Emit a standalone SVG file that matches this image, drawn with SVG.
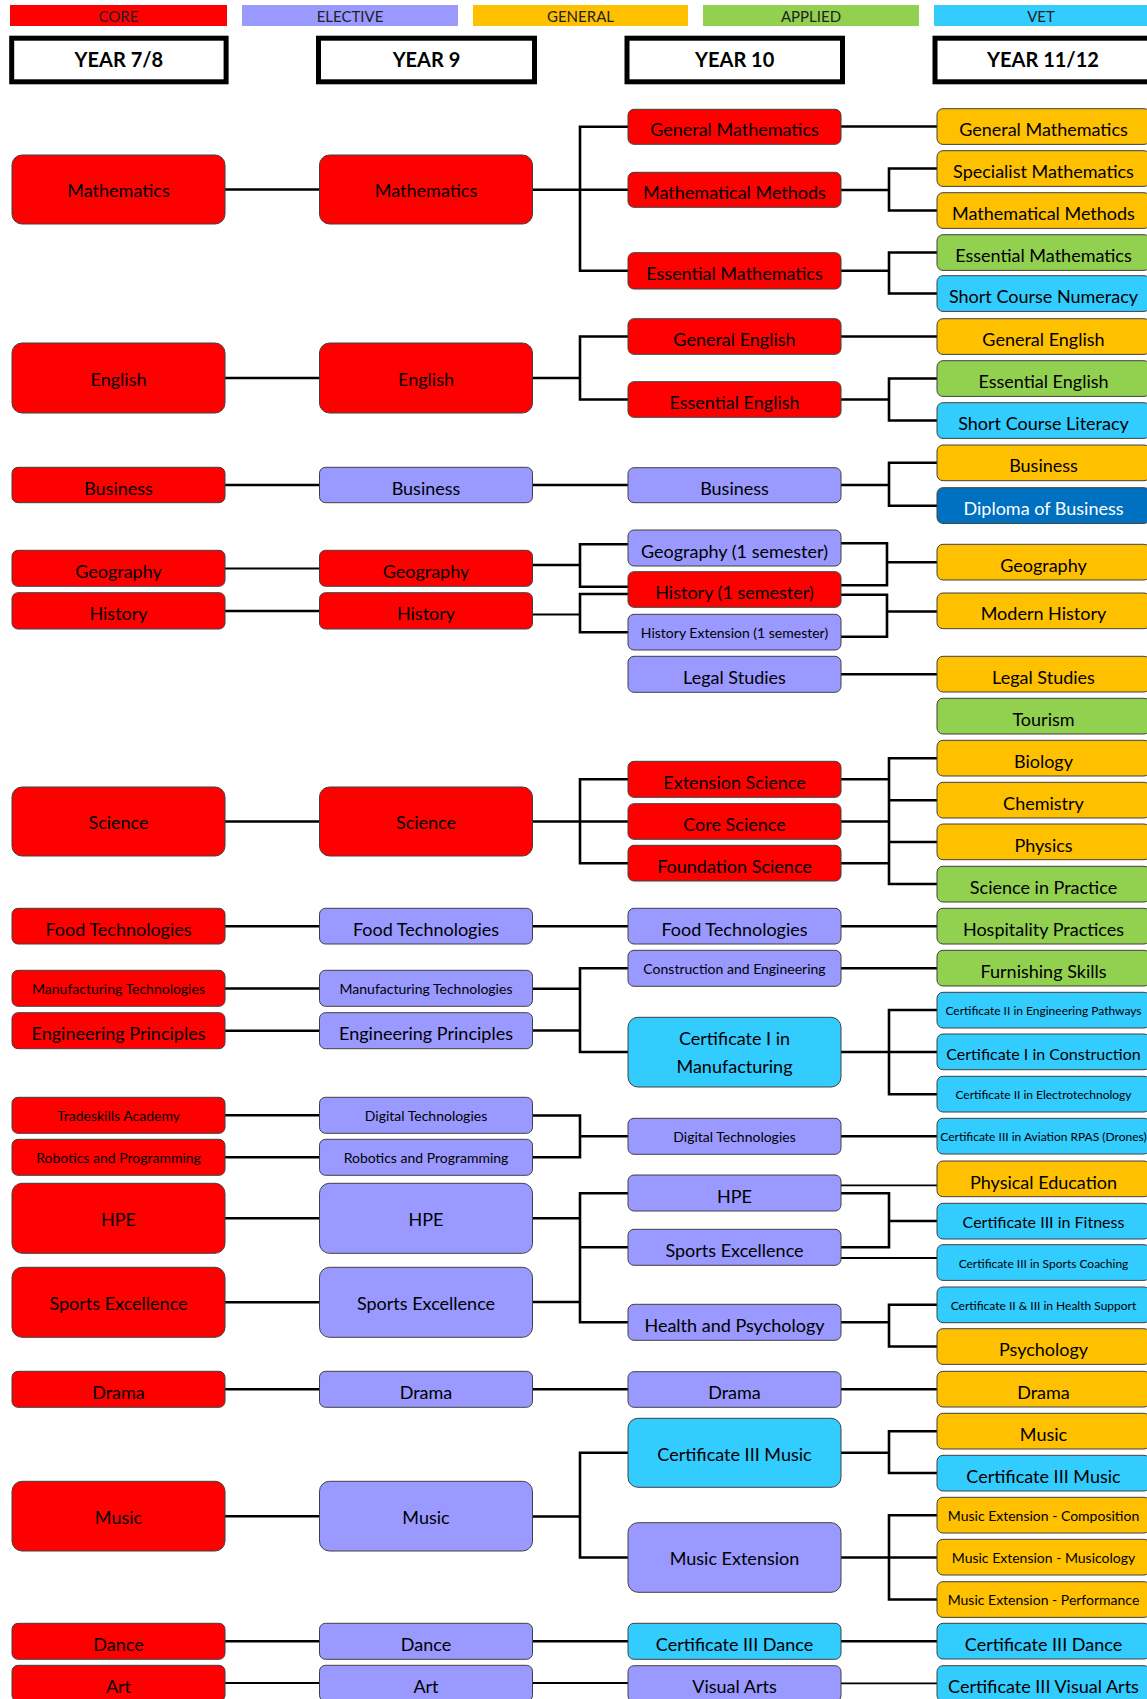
<svg xmlns="http://www.w3.org/2000/svg" width="1147" height="1699" viewBox="0 0 1147 1699">
<style>
  text { font-family: Lato, "Liberation Sans", sans-serif; fill: #000; text-anchor: middle; }
  .n rect { stroke: #404040; stroke-width: 1; }
  .core { fill: #FF0000; }
  .elec { fill: #9999FF; }
  .gen { fill: #FFC000; }
  .app { fill: #92D050; }
  .vet { fill: #33CCFF; }
  .dip { fill: #0070C0; }
  .wt { fill: #FFFFFF; }
  .t18 { font-size: 18px; }
  .t16 { font-size: 16px; }
  .t14 { font-size: 14px; }
  .t12 { font-size: 12px; }
  .leg { font-size: 15px; fill: #222; }
  .hdr rect { fill: #FFFFFF; stroke: #000; stroke-width: 5; }
  .hdr text { font-size: 20px; font-weight: bold; }
  #connectors path { fill: none; stroke: #000; stroke-width: 2.6; }
  #connectors path.thin { stroke-width: 1.8; }
</style>
<rect x="0" y="0" width="1147" height="1699" fill="#FFFFFF"/>

<g id="legend">
  <rect x="10" y="5" width="217" height="21" class="core"/>
  <text x="118.5" y="21.5" class="leg">CORE</text>
  <rect x="242" y="5" width="216" height="21" class="elec"/>
  <text x="350" y="21.5" class="leg">ELECTIVE</text>
  <rect x="473" y="5" width="215" height="21" class="gen"/>
  <text x="580.5" y="21.5" class="leg">GENERAL</text>
  <rect x="703" y="5" width="216" height="21" class="app"/>
  <text x="811" y="21.5" class="leg">APPLIED</text>
  <rect x="934" y="5" width="214" height="21" class="vet"/>
  <text x="1041" y="21.5" class="leg">VET</text>
</g>

<g id="hdr-y78" class="hdr"><rect x="11.7" y="38.2" width="214.4" height="43.6"/><text x="118.9" y="67">YEAR 7/8</text></g>
<g id="hdr-y9" class="hdr"><rect x="318.5" y="38.2" width="216" height="43.6"/><text x="426.5" y="67">YEAR 9</text></g>
<g id="hdr-y10" class="hdr"><rect x="627" y="38.2" width="215.5" height="43.6"/><text x="734.7" y="67">YEAR 10</text></g>
<g id="hdr-y1112" class="hdr"><rect x="935" y="38.2" width="216" height="43.6"/><text x="1043" y="67">YEAR 11/12</text></g>

<g id="connectors">
  <!-- Year 7/8 to Year 9 -->
  <path d="M225,189.5H319.5"/>
  <path d="M225,378H319.5"/>
  <path d="M225,485H319.5"/>
  <path d="M225,568.5H319.5" class="thin"/>
  <path d="M225,611H319.5"/>
  <path d="M225,821.5H319.5"/>
  <path d="M225,926.2H319.5"/>
  <path d="M225,988.5H319.5"/>
  <path d="M225,1030.7H319.5"/>
  <path d="M225,1115.3H319.5"/>
  <path d="M225,1157.3H319.5"/>
  <path d="M225,1218.3H319.5"/>
  <path d="M225,1302.3H319.5"/>
  <path d="M225,1389.3H319.5"/>
  <path d="M225,1516.2H319.5"/>
  <path d="M225,1641.3H319.5"/>
  <path d="M225,1683H319.5" class="thin"/>

  <!-- Year 9 to Year 10 -->
  <path d="M532.5,189.8H628"/>
  <path d="M628,126.8H580V270.8H628"/>
  <path d="M532.5,378H580"/>
  <path d="M628,336.5H580V399.5H628"/>
  <path d="M532.5,485H628"/>
  <path d="M532.5,565H580"/>
  <path d="M628,544.3H580V586.7H628"/>
  <path d="M532.5,614.5H580" class="thin"/>
  <path d="M628,594H580V632.3H628"/>
  <path d="M532.5,821.5H628"/>
  <path d="M628,779.3H580V863.2H628"/>
  <path d="M532.5,926.2H628"/>
  <path d="M532.5,988.7H580"/>
  <path d="M532.5,1030.5H580"/>
  <path d="M628,968.3H580V1052H628"/>
  <path d="M532.5,1115.5H580V1157.3H532.5"/>
  <path d="M580,1136.3H628"/>
  <path d="M532.5,1218.3H580"/>
  <path d="M532.5,1302H580"/>
  <path d="M628,1193.3H580V1322.3H628"/>
  <path d="M580,1247.3H628"/>
  <path d="M532.5,1389.3H628"/>
  <path d="M532.5,1516.5H580"/>
  <path d="M628,1452.8H580V1557.5H628"/>
  <path d="M532.5,1641.3H628"/>
  <path d="M532.5,1683H628" class="thin"/>

  <!-- Year 10 to Year 11/12 -->
  <path d="M841,126.5H937"/>
  <path d="M841,190H889"/>
  <path d="M937,168.5H889V210.5H937"/>
  <path d="M841,270.8H889"/>
  <path d="M937,252.5H889V293.5H937"/>
  <path d="M841,336.5H937"/>
  <path d="M841,399.5H889"/>
  <path d="M937,378.5H889V420.5H937"/>
  <path d="M841,485H889"/>
  <path d="M937,462.8H889V505.8H937"/>
  <path d="M841,543.3H887V585.3H841"/>
  <path d="M887,562.3H937"/>
  <path d="M841,594.7H887V636.7H841"/>
  <path d="M887,611.5H937"/>
  <path d="M841,674.3H937"/>
  <path d="M937,758.2H889V884H937"/>
  <path d="M889,800.3H937"/>
  <path d="M889,842H937"/>
  <path d="M841,779.3H889"/>
  <path d="M841,821.5H889"/>
  <path d="M841,863.2H889"/>
  <path d="M841,926.2H937"/>
  <path d="M841,968.3H937"/>
  <path d="M841,1052H937"/>
  <path d="M937,1010H889V1094.2H937"/>
  <path d="M841,1136.3H937"/>
  <path d="M841,1185.3H937" class="thin"/>
  <path d="M841,1193.3H889V1247.3H841"/>
  <path d="M889,1221H937"/>
  <path d="M841,1258H937" class="thin"/>
  <path d="M841,1322.3H889"/>
  <path d="M937,1304.7H889V1346.5H937"/>
  <path d="M841,1389.3H937"/>
  <path d="M841,1452.8H889"/>
  <path d="M937,1431.3H889V1473H937"/>
  <path d="M841,1557.5H937"/>
  <path d="M937,1515.3H889V1599.5H937"/>
  <path d="M841,1641.3H937"/>
  <path d="M841,1683.3H937" class="thin"/>
</g>

<!-- Year 7/8 column -->
<g id="y78-mathematics" class="n"><rect x="12" y="155" width="213" height="69" rx="10" class="core"/><text x="118.5" y="197.2" class="t18">Mathematics</text></g>
<g id="y78-english" class="n"><rect x="12" y="343" width="213" height="70" rx="10" class="core"/><text x="118.5" y="385.7" class="t18">English</text></g>
<g id="y78-business" class="n"><rect x="12" y="467.3" width="213" height="35.4" rx="6" class="core"/><text x="118.5" y="494.6" class="t18">Business</text></g>
<g id="y78-geography" class="n"><rect x="12" y="550.3" width="213" height="36" rx="6" class="core"/><text x="118.5" y="577.9" class="t18">Geography</text></g>
<g id="y78-history" class="n"><rect x="12" y="592.7" width="213" height="36.3" rx="6" class="core"/><text x="118.5" y="620.4" class="t18">History</text></g>
<g id="y78-science" class="n"><rect x="12" y="787" width="213" height="69" rx="10" class="core"/><text x="118.5" y="829.2" class="t18">Science</text></g>
<g id="y78-food" class="n"><rect x="12" y="908.3" width="213" height="35.7" rx="6" class="core"/><text x="118.5" y="935.8" class="t18">Food Technologies</text></g>
<g id="y78-manufacturing" class="n"><rect x="12" y="970.3" width="213" height="36" rx="6" class="core"/><text x="118.5" y="993.8" class="t14">Manufacturing Technologies</text></g>
<g id="y78-engineering" class="n"><rect x="12" y="1012.7" width="213" height="36" rx="6" class="core"/><text x="118.5" y="1040.3" class="t18">Engineering Principles</text></g>
<g id="y78-tradeskills" class="n"><rect x="12" y="1097.3" width="213" height="36" rx="6" class="core"/><text x="118.5" y="1120.8" class="t14">Tradeskills Academy</text></g>
<g id="y78-robotics" class="n"><rect x="12" y="1139.3" width="213" height="36" rx="6" class="core"/><text x="118.5" y="1162.8" class="t14">Robotics and Programming</text></g>
<g id="y78-hpe" class="n"><rect x="12" y="1183.3" width="213" height="70" rx="10" class="core"/><text x="118.5" y="1226" class="t18">HPE</text></g>
<g id="y78-sports" class="n"><rect x="12" y="1267.3" width="213" height="70" rx="10" class="core"/><text x="118.5" y="1310" class="t18">Sports Excellence</text></g>
<g id="y78-drama" class="n"><rect x="12" y="1371.3" width="213" height="36" rx="6" class="core"/><text x="118.5" y="1398.9" class="t18">Drama</text></g>
<g id="y78-music" class="n"><rect x="12" y="1481.3" width="213" height="69.7" rx="10" class="core"/><text x="118.5" y="1523.9" class="t18">Music</text></g>
<g id="y78-dance" class="n"><rect x="12" y="1623.3" width="213" height="36" rx="6" class="core"/><text x="118.5" y="1650.9" class="t18">Dance</text></g>
<g id="y78-art" class="n"><rect x="12" y="1665.3" width="213" height="36" rx="6" class="core"/><text x="118.5" y="1692.9" class="t18">Art</text></g>

<!-- Year 9 column -->
<g id="y9-mathematics" class="n"><rect x="319.5" y="155" width="213" height="69" rx="10" class="core"/><text x="426" y="197.2" class="t18">Mathematics</text></g>
<g id="y9-english" class="n"><rect x="319.5" y="343" width="213" height="70" rx="10" class="core"/><text x="426" y="385.7" class="t18">English</text></g>
<g id="y9-business" class="n"><rect x="319.5" y="467.3" width="213" height="35.4" rx="6" class="elec"/><text x="426" y="494.6" class="t18">Business</text></g>
<g id="y9-geography" class="n"><rect x="319.5" y="550.3" width="213" height="36" rx="6" class="core"/><text x="426" y="577.9" class="t18">Geography</text></g>
<g id="y9-history" class="n"><rect x="319.5" y="592.7" width="213" height="36.3" rx="6" class="core"/><text x="426" y="620.4" class="t18">History</text></g>
<g id="y9-science" class="n"><rect x="319.5" y="787" width="213" height="69" rx="10" class="core"/><text x="426" y="829.2" class="t18">Science</text></g>
<g id="y9-food" class="n"><rect x="319.5" y="908.3" width="213" height="35.7" rx="6" class="elec"/><text x="426" y="935.8" class="t18">Food Technologies</text></g>
<g id="y9-manufacturing" class="n"><rect x="319.5" y="970.3" width="213" height="36" rx="6" class="elec"/><text x="426" y="993.8" class="t14">Manufacturing Technologies</text></g>
<g id="y9-engineering" class="n"><rect x="319.5" y="1012.7" width="213" height="36" rx="6" class="elec"/><text x="426" y="1040.3" class="t18">Engineering Principles</text></g>
<g id="y9-digital" class="n"><rect x="319.5" y="1097.3" width="213" height="36" rx="6" class="elec"/><text x="426" y="1120.8" class="t14">Digital Technologies</text></g>
<g id="y9-robotics" class="n"><rect x="319.5" y="1139.3" width="213" height="36" rx="6" class="elec"/><text x="426" y="1162.8" class="t14">Robotics and Programming</text></g>
<g id="y9-hpe" class="n"><rect x="319.5" y="1183.3" width="213" height="70" rx="10" class="elec"/><text x="426" y="1226" class="t18">HPE</text></g>
<g id="y9-sports" class="n"><rect x="319.5" y="1267.3" width="213" height="70" rx="10" class="elec"/><text x="426" y="1310" class="t18">Sports Excellence</text></g>
<g id="y9-drama" class="n"><rect x="319.5" y="1371.3" width="213" height="36" rx="6" class="elec"/><text x="426" y="1398.9" class="t18">Drama</text></g>
<g id="y9-music" class="n"><rect x="319.5" y="1481.3" width="213" height="69.7" rx="10" class="elec"/><text x="426" y="1523.9" class="t18">Music</text></g>
<g id="y9-dance" class="n"><rect x="319.5" y="1623.3" width="213" height="36" rx="6" class="elec"/><text x="426" y="1650.9" class="t18">Dance</text></g>
<g id="y9-art" class="n"><rect x="319.5" y="1665.3" width="213" height="36" rx="6" class="elec"/><text x="426" y="1692.9" class="t18">Art</text></g>

<!-- Year 10 column -->
<g id="y10-general-maths" class="n"><rect x="628" y="109.3" width="213" height="35" rx="6" class="core"/><text x="734.5" y="136.4" class="t18">General Mathematics</text></g>
<g id="y10-maths-methods" class="n"><rect x="628" y="172.3" width="213" height="35" rx="6" class="core"/><text x="734.5" y="199.4" class="t18">Mathematical Methods</text></g>
<g id="y10-essential-maths" class="n"><rect x="628" y="252.7" width="213" height="36.3" rx="6" class="core"/><text x="734.5" y="280.4" class="t18">Essential Mathematics</text></g>
<g id="y10-general-english" class="n"><rect x="628" y="318.7" width="213" height="35.6" rx="6" class="core"/><text x="734.5" y="346.1" class="t18">General English</text></g>
<g id="y10-essential-english" class="n"><rect x="628" y="381.7" width="213" height="35.6" rx="6" class="core"/><text x="734.5" y="409.1" class="t18">Essential English</text></g>
<g id="y10-business" class="n"><rect x="628" y="467.7" width="213" height="35" rx="6" class="elec"/><text x="734.5" y="494.8" class="t18">Business</text></g>
<g id="y10-geography" class="n"><rect x="628" y="530" width="213" height="36" rx="6" class="elec"/><text x="734.5" y="557.6" class="t18">Geography (1 semester)</text></g>
<g id="y10-history" class="n"><rect x="628" y="571.7" width="213" height="35.6" rx="6" class="core"/><text x="734.5" y="599.1" class="t18">History (1 semester)</text></g>
<g id="y10-history-ext" class="n"><rect x="628" y="614.3" width="213" height="35.7" rx="6" class="elec"/><text x="734.5" y="637.7" class="t14">History Extension (1 semester)</text></g>
<g id="y10-legal" class="n"><rect x="628" y="656.3" width="213" height="36" rx="6" class="elec"/><text x="734.5" y="683.9" class="t18">Legal Studies</text></g>
<g id="y10-ext-science" class="n"><rect x="628" y="761.3" width="213" height="36" rx="6" class="core"/><text x="734.5" y="788.9" class="t18">Extension Science</text></g>
<g id="y10-core-science" class="n"><rect x="628" y="803.7" width="213" height="35.6" rx="6" class="core"/><text x="734.5" y="831.1" class="t18">Core Science</text></g>
<g id="y10-foundation-science" class="n"><rect x="628" y="845.3" width="213" height="35.7" rx="6" class="core"/><text x="734.5" y="872.8" class="t18">Foundation Science</text></g>
<g id="y10-food" class="n"><rect x="628" y="908.3" width="213" height="35.7" rx="6" class="elec"/><text x="734.5" y="935.8" class="t18">Food Technologies</text></g>
<g id="y10-construction" class="n"><rect x="628" y="950.3" width="213" height="36" rx="6" class="elec"/><text x="734.5" y="973.8" class="t14">Construction and Engineering</text></g>
<g id="y10-cert-manufacturing" class="n"><rect x="628" y="1017.3" width="213" height="69.7" rx="10" class="vet"/><text x="734.5" y="1045.3" class="t18">Certificate I in</text><text x="734.5" y="1073.3" class="t18">Manufacturing</text></g>
<g id="y10-digital" class="n"><rect x="628" y="1118.3" width="213" height="36" rx="6" class="elec"/><text x="734.5" y="1141.8" class="t14">Digital Technologies</text></g>
<g id="y10-hpe" class="n"><rect x="628" y="1175" width="213" height="36" rx="6" class="elec"/><text x="734.5" y="1202.6" class="t18">HPE</text></g>
<g id="y10-sports" class="n"><rect x="628" y="1229.3" width="213" height="36" rx="6" class="elec"/><text x="734.5" y="1256.9" class="t18">Sports Excellence</text></g>
<g id="y10-health-psych" class="n"><rect x="628" y="1304.3" width="213" height="36" rx="6" class="elec"/><text x="734.5" y="1331.9" class="t18">Health and Psychology</text></g>
<g id="y10-drama" class="n"><rect x="628" y="1371.7" width="213" height="35.6" rx="6" class="elec"/><text x="734.5" y="1399.1" class="t18">Drama</text></g>
<g id="y10-cert-music" class="n"><rect x="628" y="1418.3" width="213" height="69" rx="10" class="vet"/><text x="734.5" y="1460.6" class="t18">Certificate III Music</text></g>
<g id="y10-music-ext" class="n"><rect x="628" y="1522.7" width="213" height="69.6" rx="10" class="elec"/><text x="734.5" y="1565.2" class="t18">Music Extension</text></g>
<g id="y10-cert-dance" class="n"><rect x="628" y="1623.3" width="213" height="36" rx="6" class="vet"/><text x="734.5" y="1650.9" class="t18">Certificate III Dance</text></g>
<g id="y10-visual-arts" class="n"><rect x="628" y="1665.7" width="213" height="36" rx="6" class="elec"/><text x="734.5" y="1693.3" class="t18">Visual Arts</text></g>

<!-- Year 11/12 column -->
<g id="y11-general-maths" class="n"><rect x="937" y="108.7" width="213" height="35.7" rx="6" class="gen"/><text x="1043.5" y="136.1" class="t18">General Mathematics</text></g>
<g id="y11-specialist-maths" class="n"><rect x="937" y="150.7" width="213" height="35.7" rx="6" class="gen"/><text x="1043.5" y="178.1" class="t18">Specialist Mathematics</text></g>
<g id="y11-maths-methods" class="n"><rect x="937" y="192.7" width="213" height="35.7" rx="6" class="gen"/><text x="1043.5" y="220.1" class="t18">Mathematical Methods</text></g>
<g id="y11-essential-maths" class="n"><rect x="937" y="234.7" width="213" height="35.7" rx="6" class="app"/><text x="1043.5" y="262.1" class="t18">Essential Mathematics</text></g>
<g id="y11-numeracy" class="n"><rect x="937" y="275.7" width="213" height="35.7" rx="6" class="vet"/><text x="1043.5" y="303.1" class="t18">Short Course Numeracy</text></g>
<g id="y11-general-english" class="n"><rect x="937" y="318.7" width="213" height="35.7" rx="6" class="gen"/><text x="1043.5" y="346.1" class="t18">General English</text></g>
<g id="y11-essential-english" class="n"><rect x="937" y="360.7" width="213" height="35.7" rx="6" class="app"/><text x="1043.5" y="388.1" class="t18">Essential English</text></g>
<g id="y11-literacy" class="n"><rect x="937" y="402.7" width="213" height="35.7" rx="6" class="vet"/><text x="1043.5" y="430.1" class="t18">Short Course Literacy</text></g>
<g id="y11-business" class="n"><rect x="937" y="445" width="213" height="35.7" rx="6" class="gen"/><text x="1043.5" y="472.4" class="t18">Business</text></g>
<g id="y11-diploma-business" class="n"><rect x="937" y="487.7" width="213" height="35.7" rx="6" class="dip"/><text x="1043.5" y="515.1" class="t18 wt">Diploma of Business</text></g>
<g id="y11-geography" class="n"><rect x="937" y="544.3" width="213" height="35.7" rx="6" class="gen"/><text x="1043.5" y="571.8" class="t18">Geography</text></g>
<g id="y11-modern-history" class="n"><rect x="937" y="593" width="213" height="35.7" rx="6" class="gen"/><text x="1043.5" y="620.4" class="t18">Modern History</text></g>
<g id="y11-legal" class="n"><rect x="937" y="656.3" width="213" height="35.7" rx="6" class="gen"/><text x="1043.5" y="683.8" class="t18">Legal Studies</text></g>
<g id="y11-tourism" class="n"><rect x="937" y="698.3" width="213" height="35.7" rx="6" class="app"/><text x="1043.5" y="725.8" class="t18">Tourism</text></g>
<g id="y11-biology" class="n"><rect x="937" y="740.3" width="213" height="35.7" rx="6" class="gen"/><text x="1043.5" y="767.8" class="t18">Biology</text></g>
<g id="y11-chemistry" class="n"><rect x="937" y="782.3" width="213" height="35.7" rx="6" class="gen"/><text x="1043.5" y="809.8" class="t18">Chemistry</text></g>
<g id="y11-physics" class="n"><rect x="937" y="824" width="213" height="35.7" rx="6" class="gen"/><text x="1043.5" y="851.5" class="t18">Physics</text></g>
<g id="y11-science-practice" class="n"><rect x="937" y="866.3" width="213" height="35.7" rx="6" class="app"/><text x="1043.5" y="893.8" class="t18">Science in Practice</text></g>
<g id="y11-hospitality" class="n"><rect x="937" y="908.3" width="213" height="35.7" rx="6" class="app"/><text x="1043.5" y="935.8" class="t18">Hospitality Practices</text></g>
<g id="y11-furnishing" class="n"><rect x="937" y="950.3" width="213" height="35.7" rx="6" class="app"/><text x="1043.5" y="977.8" class="t18">Furnishing Skills</text></g>
<g id="y11-cert-eng" class="n"><rect x="937" y="992.3" width="213" height="35.7" rx="6" class="vet"/><text x="1043.5" y="1015.2" class="t12">Certificate II in Engineering Pathways</text></g>
<g id="y11-cert-construction" class="n"><rect x="937" y="1034" width="213" height="35.7" rx="6" class="vet"/><text x="1043.5" y="1059.7" class="t16">Certificate I in Construction</text></g>
<g id="y11-cert-electro" class="n"><rect x="937" y="1076.3" width="213" height="35.7" rx="6" class="vet"/><text x="1043.5" y="1099.2" class="t12">Certificate II in Electrotechnology</text></g>
<g id="y11-cert-aviation" class="n"><rect x="937" y="1118.3" width="213" height="35.7" rx="6" class="vet"/><text x="1043.5" y="1141.2" class="t12">Certificate III in Aviation RPAS (Drones)</text></g>
<g id="y11-physical-ed" class="n"><rect x="937" y="1161" width="213" height="35.7" rx="6" class="gen"/><text x="1043.5" y="1188.5" class="t18">Physical Education</text></g>
<g id="y11-cert-fitness" class="n"><rect x="937" y="1203.3" width="213" height="35.7" rx="6" class="vet"/><text x="1043.5" y="1228" class="t16">Certificate III in Fitness</text></g>
<g id="y11-cert-coaching" class="n"><rect x="937" y="1244.7" width="213" height="35.7" rx="6" class="vet"/><text x="1043.5" y="1267.6" class="t12">Certificate III in Sports Coaching</text></g>
<g id="y11-cert-health" class="n"><rect x="937" y="1287" width="213" height="35.7" rx="6" class="vet"/><text x="1043.5" y="1309.9" class="t12">Certificate II &amp; III in Health Support</text></g>
<g id="y11-psychology" class="n"><rect x="937" y="1328.7" width="213" height="35.7" rx="6" class="gen"/><text x="1043.5" y="1356.2" class="t18">Psychology</text></g>
<g id="y11-drama" class="n"><rect x="937" y="1371.3" width="213" height="35.7" rx="6" class="gen"/><text x="1043.5" y="1398.8" class="t18">Drama</text></g>
<g id="y11-music" class="n"><rect x="937" y="1413.3" width="213" height="35.7" rx="6" class="gen"/><text x="1043.5" y="1440.8" class="t18">Music</text></g>
<g id="y11-cert-music" class="n"><rect x="937" y="1455.3" width="213" height="35.7" rx="6" class="vet"/><text x="1043.5" y="1482.8" class="t18">Certificate III Music</text></g>
<g id="y11-music-composition" class="n"><rect x="937" y="1497.3" width="213" height="35.7" rx="6" class="gen"/><text x="1043.5" y="1521" class="t14">Music Extension - Composition</text></g>
<g id="y11-music-musicology" class="n"><rect x="937" y="1539.3" width="213" height="35.7" rx="6" class="gen"/><text x="1043.5" y="1563" class="t14">Music Extension - Musicology</text></g>
<g id="y11-music-performance" class="n"><rect x="937" y="1581.7" width="213" height="35.7" rx="6" class="gen"/><text x="1043.5" y="1605.4" class="t14">Music Extension - Performance</text></g>
<g id="y11-cert-dance" class="n"><rect x="937" y="1623.3" width="213" height="35.7" rx="6" class="vet"/><text x="1043.5" y="1650.8" class="t18">Certificate III Dance</text></g>
<g id="y11-cert-visual-arts" class="n"><rect x="937" y="1665.7" width="213" height="35.7" rx="6" class="vet"/><text x="1043.5" y="1693.2" class="t18">Certificate III Visual Arts</text></g>
</svg>
